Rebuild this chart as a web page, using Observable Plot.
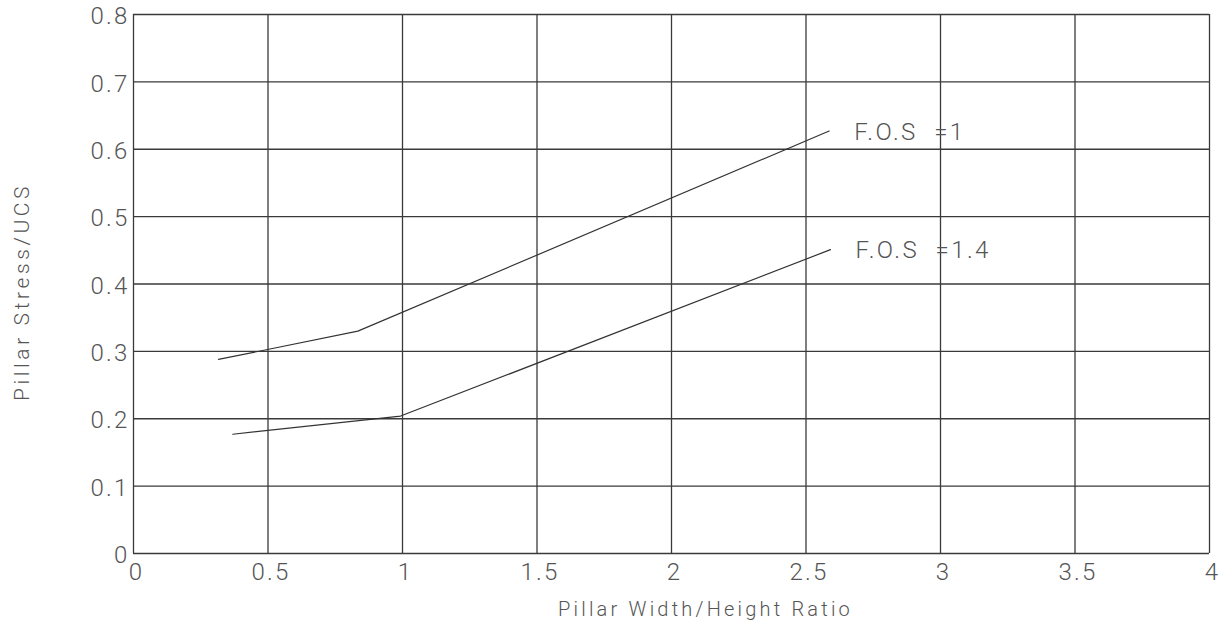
<!DOCTYPE html>
<html>
<head>
<meta charset="utf-8">
<script src="https://cdn.jsdelivr.net/npm/d3@7"></script>
<script src="https://cdn.jsdelivr.net/npm/@observablehq/plot@0.6"></script>
<style>
  html, body { margin: 0; padding: 0; background: #fff; }
  #chart svg { display: block; }
  #chart .ticklabels text { letter-spacing: 2.2px; }
  #chart .curve-label text { letter-spacing: 2.4px; }
  #chart .axis-title-x text { letter-spacing: 3.2px; }
  #chart .axis-title-y text { letter-spacing: 3.6px; }
</style>
</head>
<body>
<div id="chart"></div>
<script>
// Pillar design curves: stress/UCS against width/height ratio
const xTicks = [0, 0.5, 1, 1.5, 2, 2.5, 3, 3.5, 4];
const yTicks = [0, 0.1, 0.2, 0.3, 0.4, 0.5, 0.6, 0.7, 0.8];

const fos1X = [0.316, 0.834, 2.586];
const fos1Y = [0.288, 0.330, 0.627];
const fos14X = [0.369, 0.993, 2.591];
const fos14Y = [0.177, 0.204, 0.451];

const seriesNames = ["F.O.S  =1", "F.O.S  =1.4"];

const curves = [
  ...fos1X.map((x, i) => ({series: seriesNames[0], x, y: fos1Y[i]})),
  ...fos14X.map((x, i) => ({series: seriesNames[1], x, y: fos14Y[i]}))
];

const ink = "#3a3a3a";
const textInk = "#555";
const font = "Roboto, 'DejaVu Sans', sans-serif";

const chart = Plot.plot({
  width: 1219,
  height: 638,
  marginLeft: 133,
  marginRight: 10,
  marginTop: 14,
  marginBottom: 85,
  style: {fontFamily: font, color: textInk, background: "#fff"},
  x: {domain: [0, 4]},
  y: {domain: [0, 0.8]},
  marks: [
    Plot.ruleX(xTicks, {stroke: ink, strokeWidth: 1.3}),
    Plot.ruleY(yTicks, {stroke: ink, strokeWidth: 1.3}),
    Plot.axisX({
      ticks: xTicks, tickSize: 0, tickPadding: 9, dx: 3, tickFormat: d => String(d),
      label: null, fontSize: 24, fontWeight: 300, fill: textInk, className: "ticklabels"
    }),
    Plot.axisY({
      ticks: yTicks, tickSize: 0, tickPadding: 4, dy: 2, tickFormat: d => String(d),
      label: null, fontSize: 24, fontWeight: 300, fill: textInk, className: "ticklabels"
    }),
    Plot.line(curves, {x: "x", y: "y", z: "series", stroke: "#333", strokeWidth: 1.2}),
    Plot.text(curves, Plot.selectLast({
      x: "x", y: "y", z: "series", text: "series",
      textAnchor: "start", dx: 25, dy: 1, fontSize: 24, fontWeight: 300, fill: textInk,
      className: "curve-label"
    })),
    Plot.text(["Pillar Width/Height Ratio"], {
      frameAnchor: "bottom", textAnchor: "middle", dx: 34, dy: 62,
      fontSize: 20, fontWeight: 300, fill: textInk, className: "axis-title-x"
    }),
    Plot.text(["Pillar Stress/UCS"], {
      frameAnchor: "left", textAnchor: "middle", dx: -111, dy: 8, rotate: -90,
      fontSize: 21, fontWeight: 300, fill: textInk, className: "axis-title-y"
    })
  ]
});

chart.querySelectorAll("text").forEach(t => t.setAttribute("xml:space", "preserve"));
document.getElementById("chart").appendChild(chart);
</script>
</body>
</html>
